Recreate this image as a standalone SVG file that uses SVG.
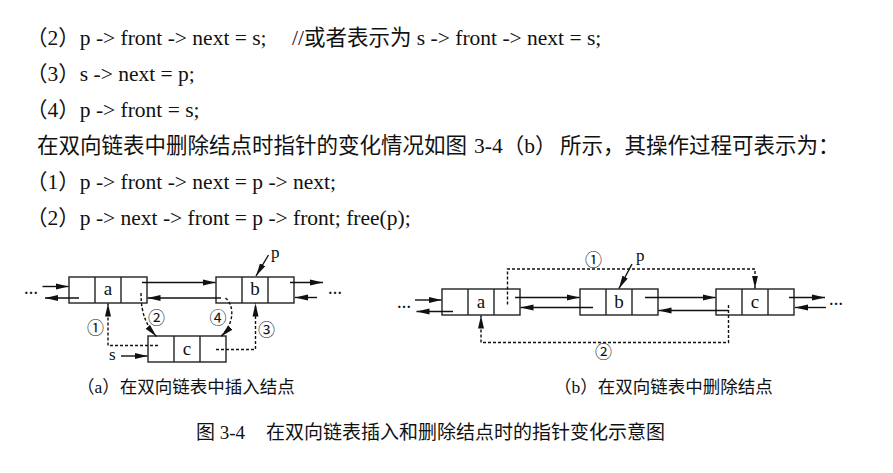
<svg xmlns="http://www.w3.org/2000/svg" width="893" height="473" viewBox="0 0 893 473">
<style>
.t{font-family:"Liberation Serif","Noto Sans CJK SC",serif;font-size:21.5px;fill:#111}
.cap{font-family:"Liberation Serif","Noto Sans CJK SC",serif;font-size:17.5px;fill:#111}
.fig{font-family:"Liberation Serif","Noto Sans CJK SC",serif;font-size:19px;fill:#111}
.box{fill:#fff;stroke:#222;stroke-width:1.4}
.dv{stroke:#222;stroke-width:1.4}
.lbl{font-family:"Liberation Serif",serif;font-size:19px;text-anchor:middle;fill:#111}
.ptr{font-family:"Liberation Serif",serif;font-size:17px;fill:#111}
.num{font-family:"Noto Sans CJK SC",sans-serif;font-size:17px;text-anchor:middle;fill:#111}
.ar{stroke:#111;stroke-width:1.4;fill:none;marker-end:url(#ah)}
.da{stroke:#111;stroke-width:1.4;fill:none;stroke-dasharray:3 2;marker-end:url(#ah)}
.dots{font-family:"Liberation Serif",serif;font-size:14px;font-weight:bold;fill:#111}
</style>
<defs>
<marker id="ah" markerUnits="userSpaceOnUse" markerWidth="14" markerHeight="7" refX="13" refY="3.5" orient="auto">
<path d="M0,0.5 L13,3.5 L0,6.5 z" fill="#111"/>
</marker>
</defs>
<rect width="893" height="473" fill="#fff"/>
<g id="body-text">
<text class="t" y="45"><tspan x="26">（2）p -&gt; front -&gt; next = s;</tspan><tspan x="292">//或者表示为 s -&gt; front -&gt; next = s;</tspan></text>
<text class="t" x="26" y="81">（3）s -&gt; next = p;</text>
<text class="t" x="26" y="117">（4）p -&gt; front = s;</text>
<text class="t" y="153"><tspan x="37">在双向链表中删除结点时指针的变化情况如图</tspan><tspan x="474">3-4（b）</tspan><tspan x="560">所示，其操作过程可表示为：</tspan></text>
<text class="t" x="26" y="189">（1）p -&gt; front -&gt; next = p -&gt; next;</text>
<text class="t" x="26" y="225">（2）p -&gt; next -&gt; front = p -&gt; front; free(p);</text>
</g>
<g id="diagram-a">
<g id="a-node-a"><rect class="box" x="69" y="277" width="78" height="26"/><line class="dv" x1="95" y1="277" x2="95" y2="303"/><line class="dv" x1="121" y1="277" x2="121" y2="303"/><text class="lbl" x="108" y="295">a</text></g>
<g id="a-node-b"><rect class="box" x="216" y="277" width="78" height="26"/><line class="dv" x1="242" y1="277" x2="242" y2="303"/><line class="dv" x1="268" y1="277" x2="268" y2="303"/><text class="lbl" x="255" y="295">b</text></g>
<g id="a-node-c"><rect class="box" x="148" y="336" width="78" height="26"/><line class="dv" x1="174" y1="336" x2="174" y2="362"/><line class="dv" x1="200" y1="336" x2="200" y2="362"/><text class="lbl" x="187" y="354.5">c</text></g>
<text class="dots" x="24" y="294">…</text>
<text class="dots" x="328" y="294">…</text>
<text class="ptr" x="271" y="258">p</text>
<text class="ptr" x="109" y="360">s</text>
<text class="num" x="95.5" y="333.5">①</text>
<text class="num" x="156.5" y="324">②</text>
<text class="num" x="266.5" y="335.5">③</text>
<text class="num" x="218" y="324">④</text>
<text class="cap" x="77" y="393">（a）在双向链表中插入结点</text>
</g>
<g id="connectors-a">
<line class="ar" x1="42.5" y1="286.5" x2="68.5" y2="286.5"/>
<line class="ar" x1="79" y1="298" x2="45" y2="298"/>
<line class="ar" x1="142" y1="282.5" x2="215.5" y2="282.5"/>
<line class="ar" x1="221" y1="298" x2="147.5" y2="298"/>
<line class="ar" x1="290" y1="282.5" x2="323" y2="282.5"/>
<line class="ar" x1="317" y1="297.5" x2="295" y2="297.5"/>
<line class="ar" x1="268.5" y1="255" x2="256" y2="276"/>
<line class="ar" x1="121" y1="356" x2="147.5" y2="356"/>
<path class="da" d="M158,345.5 H108 V303.5"/>
<path class="da" d="M216,349.5 H255.5 V303.5"/>
<path class="da" d="M141,293 C141,315 147,326 156.5,336.5"/>
<path class="da" d="M225.5,298 C235,306 234,324 221,336.5"/>
</g>
<g id="diagram-b">
<g id="b-node-a"><rect class="box" x="442" y="289" width="78" height="26"/><line class="dv" x1="468" y1="289" x2="468" y2="315"/><line class="dv" x1="494" y1="289" x2="494" y2="315"/><text class="lbl" x="481" y="307.5">a</text></g>
<g id="b-node-b"><rect class="box" x="580" y="289" width="78" height="26"/><line class="dv" x1="606" y1="289" x2="606" y2="315"/><line class="dv" x1="632" y1="289" x2="632" y2="315"/><text class="lbl" x="619" y="307.5">b</text></g>
<g id="b-node-c"><rect class="box" x="716" y="289" width="78" height="26"/><line class="dv" x1="742" y1="289" x2="742" y2="315"/><line class="dv" x1="768" y1="289" x2="768" y2="315"/><text class="lbl" x="755" y="307.5">c</text></g>
<text class="dots" x="397" y="308">…</text>
<text class="dots" x="829" y="304.5">…</text>
<text class="ptr" x="636" y="261">p</text>
<text class="num" x="593.5" y="265.5">①</text>
<text class="num" x="603.5" y="358">②</text>
<text class="cap" x="554" y="393">（b）在双向链表中删除结点</text>
</g>
<g id="connectors-b">
<line class="ar" x1="415" y1="300" x2="441.5" y2="300"/>
<line class="ar" x1="453" y1="311.5" x2="416.5" y2="311.5"/>
<line class="ar" x1="515" y1="297.5" x2="579.5" y2="297.5"/>
<line class="ar" x1="593" y1="307.5" x2="520.5" y2="307.5"/>
<line class="ar" x1="645" y1="297.5" x2="715.5" y2="297.5"/>
<line class="ar" x1="728.5" y1="310.5" x2="658.5" y2="310.5"/>
<line class="ar" x1="789" y1="297.5" x2="825" y2="297.5"/>
<line class="ar" x1="826" y1="307.5" x2="795" y2="307.5"/>
<line class="ar" x1="632" y1="264" x2="619" y2="288.5"/>
<path class="da" d="M507.5,304.5 V269 H755 V288.5"/>
<path class="da" d="M728.5,305 V342.5 H481 V315.5"/>
</g>
<g id="figure-caption">
<text class="fig" y="439"><tspan x="196">图 3-4</tspan><tspan x="266">在双向链表插入和删除结点时的指针变化示意图</tspan></text>
</g>
</svg>
